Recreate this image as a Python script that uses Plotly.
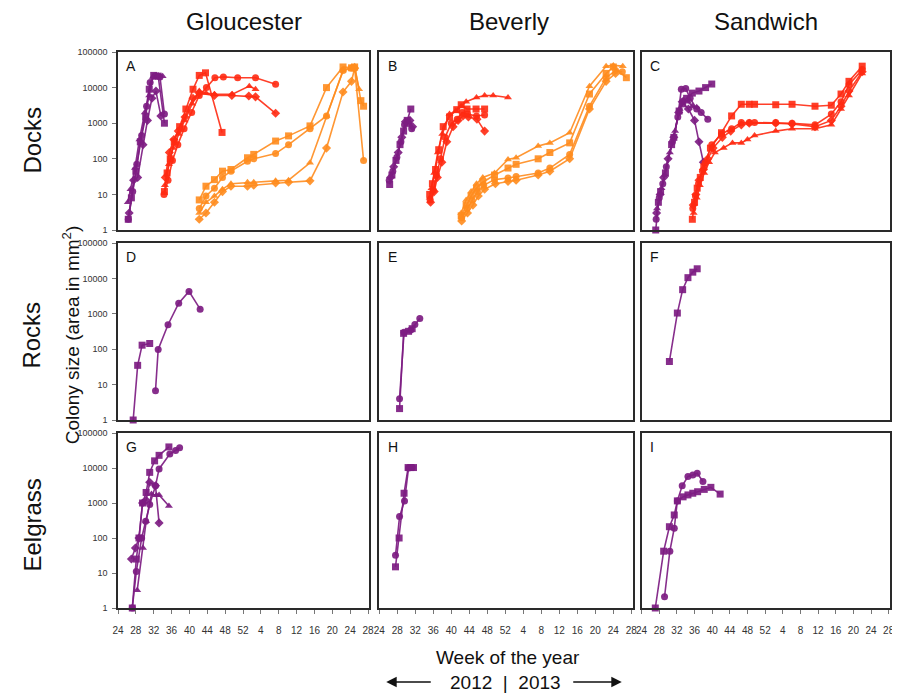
import plotly.graph_objects as go

# ---------------- DATA ----------------
# x = week of the year; weeks of 2013 are written as 52 + week
TICK_WEEKS = [24, 28, 32, 36, 40, 44, 48, 52, 56, 60, 64, 68, 72, 76, 80]
TICK_LABELS = ["24", "28", "32", "36", "40", "44", "48", "52", "4", "8", "12", "16", "20", "24", "28"]
Y_TICKS = [1, 10, 100, 1000, 10000, 100000]
Y_TICK_LABELS = ["1", "10", "100", "1000", "10000", "100000"]

SITES = ["Gloucester", "Beverly", "Sandwich"]
HABITATS = ["Docks", "Rocks", "Eelgrass"]
PANEL_LETTERS = ["A", "B", "C", "D", "E", "F", "G", "H", "I"]

# cohort codes: 0 = early 2012 (purple), 1 = late 2012 (red), 2 = overwintering (orange)
A_cohort = [0, 0, 0, 0, 1, 1, 1, 1, 2, 2, 2, 2]
A_wk = [
    [26.3, 27.0, 28.0, 29.0, 30.2, 31.0, 32.0, 33.0, 34.4],
    [26.3, 27.3, 28.2, 29.3, 30.4, 31.2, 32.3, 33.4, 34.4],
    [26.5, 27.5, 28.4, 29.6, 30.6, 31.6, 32.5, 33.6],
    [26.2, 26.8, 27.8, 28.8, 30.0, 31.0, 31.8, 33.0, 34.0],
    [34.4, 35.0, 35.7, 36.6, 37.8, 39.2, 40.8, 42.2, 43.6, 47.3],
    [34.3, 35.2, 36.2, 37.4, 38.8, 40.5, 42.2, 43.8, 45.7, 47.6, 50.8, 54.8, 59.3],
    [34.6, 35.5, 36.5, 37.5, 39.0, 40.8, 42.2, 45.6, 49.5, 53.3, 54.8, 59.3],
    [34.5, 35.4, 36.3, 37.6, 38.9, 40.6, 42.2, 43.7, 45.6, 49.6, 53.4, 54.8],
    [42.2, 43.7, 45.6, 47.4, 49.3, 53.0, 54.4, 59.3, 62.2, 67.0, 70.7, 74.4, 76.3, 77.0, 78.4, 79.0],
    [42.2, 43.7, 45.6, 47.4, 49.3, 53.0, 54.4, 59.3, 62.2, 67.0, 70.7, 74.4, 76.3, 77.0, 79.0],
    [42.2, 43.7, 45.6, 47.4, 49.3, 53.0, 54.4, 59.3, 62.2, 67.0, 70.7, 74.4, 76.3, 77.0],
    [42.2, 43.7, 45.6, 47.4, 49.3, 53.0, 54.4, 59.3, 62.2, 67.0, 70.7, 74.4, 76.3, 77.0, 78.0],
]
A_val = [
    [2, 8, 45, 300, 1500, 9000, 22000, 21000, 1000],
    [2, 12, 70, 450, 3000, 14000, 21000, 20000, 1800],
    [3, 25, 30, 250, 1200, 5000, 8000, 1600],
    [6, 14, 55, 350, 2000, 6000, 20000, 22000, 21000],
    [12, 40, 100, 300, 800, 2500, 9000, 22000, 26000, 550],
    [10, 25, 90, 250, 700, 2000, 6000, 10000, 19000, 20000, 19000, 19000, 12500],
    [30, 150, 350, 600, 1500, 5000, 7000, 6000, 6000, 5800, 5500, 1900],
    [18, 70, 200, 500, 1200, 3500, 8000, 7000, 6500, 6500, 11000, 9000],
    [7, 17, 26, 45, 50, 107, 133, 315, 440, 840, 10000, 38000, 36000, 38000, 4300, 3000],
    [4, 9, 15, 30, 45, 85, 100, 140, 250, 700, 1600, 30000, 35000, 35000, 90],
    [2, 3, 6, 12, 17, 17, 18, 21, 22, 24, 200, 7500, 15000, 35000],
    [3, 6, 9, 14, 20, 22, 22, 24, 25, 77, 1600, 30000, 38000, 40000, 9000],
]

B_cohort = [0, 0, 0, 1, 1, 1, 1, 2, 2, 2, 2]
B_wk = [
    [26.3, 26.8, 27.7, 28.6, 29.4, 30.2, 31.0],
    [26.2, 27.0, 27.9, 28.8, 29.6, 30.5, 31.2],
    [26.5, 27.2, 28.2, 29.0, 29.8, 30.8, 31.4],
    [35.2, 35.6, 36.2, 37.0, 38.0, 39.6, 41.0, 42.2, 43.3, 45.6, 47.4, 49.3, 52.6],
    [35.2, 35.8, 36.5, 37.2, 38.2, 39.6, 41.2, 42.2, 43.5, 45.5, 47.4],
    [35.3, 36.0, 36.7, 37.6, 38.6, 40.0, 41.3, 42.4, 43.6, 45.6, 47.4],
    [35.4, 36.2, 36.9, 37.9, 39.0, 40.4, 41.5, 42.6, 43.8, 45.7, 47.4],
    [42.2, 43.3, 44.4, 45.6, 47.0, 49.6, 52.6, 54.4, 59.3, 61.9, 66.3, 70.7, 74.4, 76.0, 78.1],
    [42.2, 43.3, 44.4, 45.6, 47.0, 49.6, 52.6, 54.4, 59.3, 61.9, 66.3, 70.7, 74.4, 76.0, 78.9],
    [42.3, 43.5, 44.6, 45.8, 47.2, 49.6, 52.6, 54.4, 59.3, 61.9, 66.3, 70.7, 74.4, 76.5, 78.0],
    [42.3, 43.6, 44.8, 46.0, 47.4, 49.8, 52.6, 54.4, 59.3, 61.9, 66.3, 70.7, 74.4, 76.5],
]
B_val = [
    [19, 35, 90, 250, 600, 1200, 2500],
    [25, 45, 110, 300, 900, 1000, 700],
    [30, 60, 150, 400, 1100, 1200, 800],
    [8, 15, 40, 150, 500, 1800, 2200, 3000, 4000, 5300, 6000, 6000, 5300],
    [10, 20, 50, 180, 800, 1500, 2400, 3300, 2500, 2500, 2500],
    [7, 13, 35, 100, 400, 1000, 1300, 2000, 1800, 1600, 1700],
    [6, 12, 30, 80, 300, 800, 1200, 1600, 1500, 1300, 600],
    [3, 7, 12, 20, 30, 40, 96, 107, 230, 280, 540, 11000, 40000, 42000, 40000],
    [2.5, 5, 9, 15, 22, 35, 55, 70, 100, 150, 280, 6600, 25000, 38000, 19000],
    [2.2, 4, 7, 12, 18, 26, 29, 32, 40, 55, 133, 3000, 19000, 30000, 28000],
    [1.8, 3, 5, 9, 14, 20, 23, 25, 35, 45, 100, 2500, 15000, 25000],
]

C_cohort = [0, 0, 0, 0, 1, 1, 1, 1]
C_wk = [
    [27.2, 27.8, 28.3, 29.4, 30.8, 31.3, 32.5, 33.3, 34.2, 35.5, 37.0, 38.5, 39.9],
    [27.3, 28.0, 28.8, 29.6, 31.0, 32.2, 33.0, 34.0, 35.0, 36.5, 37.5, 39.0],
    [27.4, 28.2, 29.0, 30.0, 31.3, 32.4, 33.2, 34.6, 36.0, 37.0, 38.0],
    [27.5, 28.5, 29.3, 30.4, 31.6, 32.6, 33.5, 34.5, 35.5, 36.5],
    [35.5, 36.0, 36.6, 37.3, 38.1, 39.6, 42.1, 44.4, 46.6, 48.4, 49.6, 54.4, 58.1, 63.3, 67.0, 69.2, 71.0, 74.0],
    [35.6, 36.2, 36.9, 37.8, 38.4, 39.9, 42.1, 44.4, 46.6, 48.4, 49.6, 54.4, 58.1, 63.3, 67.0, 69.2, 71.0, 74.0],
    [35.7, 36.3, 37.0, 38.0, 39.0, 40.2, 42.3, 44.2, 46.6, 48.4, 54.4, 58.1, 63.3, 67.0, 69.2, 71.0, 74.0],
    [35.8, 36.5, 37.2, 38.2, 39.3, 40.6, 42.6, 44.6, 46.6, 48.0, 49.6, 54.4, 58.1, 63.3, 67.0, 69.2, 71.0, 74.0],
]
C_val = [
    [1, 6, 12, 40, 250, 400, 2200, 3500, 5000, 7000, 8000, 10000, 12600],
    [2, 8, 20, 60, 300, 1500, 9000, 9500, 5000, 2500, 2000, 1300],
    [3, 10, 30, 100, 400, 2000, 4000, 2500, 1200, 300, 80],
    [4, 15, 35, 150, 600, 2500, 4500, 4000, 3000, 2800],
    [2, 6, 15, 30, 60, 200, 540, 1600, 3400, 3400, 3400, 3300, 3400, 3000, 3200, 6600, 15000, 40000],
    [4, 9, 20, 45, 77, 250, 500, 700, 1050, 1050, 1050, 1050, 1000, 900, 1800, 4000, 12000, 32000],
    [5, 10, 25, 50, 100, 200, 400, 600, 900, 1000, 1000, 950, 800, 1200, 3000, 8000, 28000],
    [3, 8, 18, 40, 80, 150, 200, 280, 280, 350, 450, 600, 700, 700, 900, 2500, 6000, 25000],
]

D_cohort = [0, 0]
D_wk = [[27.4, 28.4, 29.4, 31.1], [32.4, 33.0, 35.2, 37.6, 39.9, 42.4]]
D_val = [[1, 35, 130, 145], [6.7, 98, 490, 2000, 4300, 1350]]

E_cohort = [0, 0]
E_wk = [[28.5, 29.4, 30.5, 31.3], [28.5, 29.5, 31.0, 31.9, 33.0]]
E_val = [[2.1, 280, 320, 380], [4, 300, 350, 500, 740]]

F_cohort = [0]
F_wk = [[30.3, 32.1, 33.3, 34.5, 35.6, 36.6]]
F_val = [[45, 1050, 4800, 10500, 15000, 18700]]

G_cohort = [0, 0, 0, 0]
G_wk = [
    [27.2, 28.1, 28.7, 29.5, 30.3, 31.1, 32.2, 33.2, 35.4],
    [27.2, 28.1, 29.3, 30.2, 31.1, 32.4, 33.2, 35.6, 36.9, 37.8],
    [27.0, 27.9, 28.7, 29.5, 30.3, 31.1, 32.4, 33.2],
    [28.3, 29.6, 30.3, 31.5, 32.6, 33.2, 35.4],
]
G_val = [
    [1, 25, 100, 1000, 2000, 7500, 16000, 23000, 40000],
    [1, 11, 100, 300, 900, 3100, 9400, 25000, 31600, 38000],
    [25, 52, 100, 1000, 1200, 3900, 3100, 270],
    [3.2, 52, 300, 1800, 1660, 1700, 820],
]

H_cohort = [0, 0]
H_wk = [[27.6, 28.4, 29.5, 30.4, 31.0, 31.6], [27.6, 28.5, 29.6, 30.5, 31.3]]
H_val = [[15, 100, 1900, 10300, 10300, 10300], [32, 410, 1150, 10000, 10300]]

I_cohort = [0, 0]
I_wk = [
    [27.1, 29.0, 30.3, 31.4, 32.1, 33.4, 34.5, 35.6, 36.7, 38.2, 39.7, 41.8],
    [29.2, 30.4, 31.4, 32.1, 33.2, 34.5, 35.6, 36.6, 37.9],
]
I_val = [
    [1, 42, 210, 455, 1150, 1500, 1700, 1900, 2100, 2450, 2800, 1800],
    [2.1, 42, 190, 1150, 3100, 5700, 6300, 7100, 4100],
]

PANELS = [
    (A_wk, A_val, A_cohort), (B_wk, B_val, B_cohort), (C_wk, C_val, C_cohort),
    (D_wk, D_val, D_cohort), (E_wk, E_val, E_cohort), (F_wk, F_val, F_cohort),
    (G_wk, G_val, G_cohort), (H_wk, H_val, H_cohort), (I_wk, I_val, I_cohort),
]

# ---------------- STYLE ----------------
COHORT_COLORS = ["rgba(125,28,130,0.92)", "rgba(255,42,18,0.9)", "rgba(255,140,30,0.9)"]
SYMBOLS = ["square", "circle", "diamond", "triangle-up"]
FONT = "Arial, Liberation Sans, Helvetica, sans-serif"

OFF = 8                      # page body margin of the html page
W, H = 900 - OFF, 694 - OFF  # figure size so that it fits the window
# target positions in page pixels
PAGE_L, PAGE_R, PAGE_T, PAGE_B = 118, 895, 52, 608
ML = PAGE_L - OFF
MT = PAGE_T - OFF
MR = W - (PAGE_R - OFF)
MB = H - (PAGE_B - OFF)
PW, PH = W - ML - MR, H - MT - MB
COL_PX = [(118, 371), (381, 636), (645, 895)]
ROW_PX = [(52, 230), (243, 420), (433, 608)]


def px_x(p):
    return (p - PAGE_L) / PW


def px_y(p):
    return (PAGE_B - p) / PH


fig = go.Figure()
layout = dict(
    width=W, height=H,
    margin=dict(l=ML, r=MR, t=MT, b=MB),
    plot_bgcolor="white", paper_bgcolor="white",
    showlegend=False,
    font=dict(family=FONT, color="#222"),
)
annotations = []

for k, (wks, vals, cohorts) in enumerate(PANELS):
    r, c = divmod(k, 3)
    idx = k + 1
    xa = "x" if idx == 1 else f"x{idx}"
    ya = "y" if idx == 1 else f"y{idx}"
    for s, (wk, vv, co) in enumerate(zip(wks, vals, cohorts)):
        col = COHORT_COLORS[co]
        fig.add_trace(go.Scatter(
            x=wk, y=vv, mode="lines+markers", xaxis=xa, yaxis=ya,
            line=dict(color=col, width=1.6),
            marker=dict(color=col, size=7, symbol=SYMBOLS[s % len(SYMBOLS)], line=dict(width=0)),
            cliponaxis=False, hoverinfo="skip",
        ))
    x0, x1 = COL_PX[c]
    y0, y1 = ROW_PX[r]
    xkey = "xaxis" if idx == 1 else f"xaxis{idx}"
    ykey = "yaxis" if idx == 1 else f"yaxis{idx}"
    bottom = (r == 2)
    left = (c == 0)
    layout[xkey] = dict(
        domain=[px_x(x0), px_x(x1)], anchor=ya, range=[24, 80.3],
        showgrid=False, zeroline=False, showline=True, mirror=True,
        linecolor="#2a2a2a", linewidth=1.5,
        tickvals=TICK_WEEKS, ticktext=TICK_LABELS,
        showticklabels=bottom, ticks="outside" if bottom else "",
        ticklen=4, tickcolor="#777", tickwidth=1, ticklabelstandoff=8,
        tickfont=dict(size=10, family=FONT, color="#333"),
    )
    layout[ykey] = dict(
        domain=[px_y(y1), px_y(y0)], anchor=xa, type="log", range=[0, 5],
        showgrid=False, zeroline=False, showline=True, mirror=True,
        linecolor="#2a2a2a", linewidth=1.5,
        tickvals=Y_TICKS, ticktext=Y_TICK_LABELS,
        showticklabels=left, ticks="outside" if left else "",
        ticklen=4, tickcolor="#777", tickwidth=1, ticklabelstandoff=3,
        tickfont=dict(size=9, family=FONT, color="#333"),
    )
    annotations.append(dict(
        text=PANEL_LETTERS[k], xref=f"{xa} domain", yref=f"{ya} domain",
        x=0.025, y=0.975, xanchor="left", yanchor="top", showarrow=False,
        font=dict(size=14, family=FONT, color="#111"),
    ))

# column titles
for name, cx in zip(SITES, [245, 512, 770]):
    annotations.append(dict(text=name, xref="paper", yref="paper", x=px_x(cx), y=px_y(22),
                            xanchor="center", yanchor="middle", showarrow=False,
                            font=dict(size=24, family=FONT, color="#111")))
# row labels
for name, cy in zip(HABITATS, [140, 335, 525]):
    annotations.append(dict(text=name, xref="paper", yref="paper", x=px_x(31), y=px_y(cy),
                            xanchor="center", yanchor="middle", showarrow=False, textangle=-90,
                            font=dict(size=24, family=FONT, color="#111")))
annotations.append(dict(text="Colony size (area in mm<sup>2</sup>)", xref="paper", yref="paper",
                        x=px_x(71), y=px_y(335), xanchor="center", yanchor="middle",
                        showarrow=False, textangle=-90,
                        font=dict(size=19, family=FONT, color="#111")))
# x-axis title
annotations.append(dict(text="Week of the year", xref="paper", yref="paper", x=px_x(511), y=px_y(658),
                        xanchor="center", yanchor="middle", showarrow=False,
                        font=dict(size=19, family=FONT, color="#111")))
annotations.append(dict(text="2012  |  2013", xref="paper", yref="paper", x=px_x(508), y=px_y(682),
                        xanchor="center", yanchor="middle", showarrow=False,
                        font=dict(size=19, family=FONT, color="#111")))
annotations.append(dict(text="", xref="paper", yref="paper", x=px_x(388), y=px_y(682),
                        ax=46, ay=0, axref="pixel", ayref="pixel", showarrow=True,
                        arrowhead=2, arrowsize=1.3, arrowwidth=1.6, arrowcolor="#111"))
annotations.append(dict(text="", xref="paper", yref="paper", x=px_x(625), y=px_y(682),
                        ax=-50, ay=0, axref="pixel", ayref="pixel", showarrow=True,
                        arrowhead=2, arrowsize=1.3, arrowwidth=1.6, arrowcolor="#111"))

layout["annotations"] = annotations
fig.update_layout(**layout)
fig.write_html("out.html")
